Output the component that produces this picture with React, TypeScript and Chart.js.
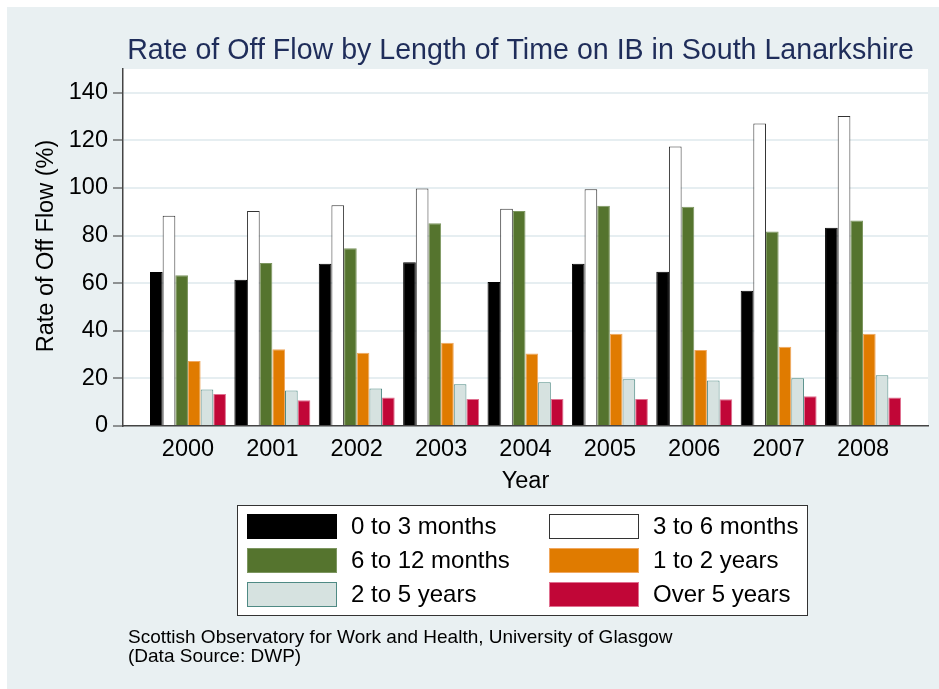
import React, { useEffect, useRef } from "react";
import { Chart, registerables } from "chart.js";

Chart.register(...registerables);

const YEARS = ["2000", "2001", "2002", "2003", "2004", "2005", "2006", "2007", "2008"];
const SERIES_LABELS = ["0 to 3 months", "3 to 6 months", "6 to 12 months", "1 to 2 years", "2 to 5 years", "Over 5 years"];
const M0_3 = [64.7, 61.5, 68.2, 68.8, 60.5, 68.2, 64.8, 56.8, 83.3];
const M3_6 = [88.3, 90.3, 92.8, 99.8, 91.3, 99.5, 117.4, 127.1, 130.2];
const M6_12 = [63.3, 68.5, 74.7, 85.2, 90.3, 92.5, 92.1, 81.7, 86.3];
const Y1_2 = [27.3, 32.3, 30.8, 35.0, 30.5, 38.8, 31.9, 33.3, 38.8];
const Y2_5 = [15.3, 14.9, 15.8, 17.5, 18.4, 19.6, 19.1, 20.1, 21.3];
const Y5_PLUS = [13.4, 10.8, 12.0, 11.3, 11.3, 11.3, 11.2, 12.5, 12.0];
const Y_TICKS = [0, 20, 40, 60, 80, 100, 120, 140];

const TITLE = "Rate of Off Flow by Length of Time on IB in South Lanarkshire";
const Y_TITLE = "Rate of Off Flow (%)";
const X_TITLE = "Year";
const CAPTION = ["Scottish Observatory for Work and Health, University of Glasgow", "(Data Source: DWP)"];

const FILLS = ["#000000", "#ffffff", "#55742e", "#e07b00", "#d6e2e0", "#c10637"];
const BORDERS = ["#000000", "#333333", "#7d9660", "#f0a860", "#4f8a84", "#e07090"];

const FONT = "'Liberation Sans', Arial, sans-serif";
const BG = "#e9f0f2";

const decorPlugin = {
  id: "decor",
  beforeDraw(chart: any) {
    const { ctx, chartArea, width, height } = chart;
    ctx.save();
    ctx.fillStyle = "#ffffff";
    ctx.fillRect(0, 0, width, height);
    ctx.fillStyle = BG;
    ctx.fillRect(7, 7, width - 7, height - 7);
    ctx.fillStyle = "#ffffff";
    ctx.fillRect(chartArea.left, chartArea.top, chartArea.right - chartArea.left, chartArea.bottom - chartArea.top);
    ctx.restore();
  },
  afterDraw(chart: any) {
    const { ctx, chartArea } = chart;
    ctx.save();
    // Title
    ctx.fillStyle = "#1f2d5a";
    ctx.font = `28.6px ${FONT}`;
    ctx.textAlign = "center";
    ctx.textBaseline = "alphabetic";
    ctx.fillText(TITLE, (chartArea.left + chartArea.right) / 2 - 5, 59);

    // Y title
    ctx.fillStyle = "#000000";
    ctx.font = `23.5px ${FONT}`;
    ctx.save();
    ctx.translate(47, 246);
    ctx.rotate(-Math.PI / 2);
    ctx.textAlign = "center";
    ctx.textBaseline = "middle";
    ctx.fillText(Y_TITLE, 0, 0);
    ctx.restore();

    // X title
    ctx.textAlign = "center";
    ctx.textBaseline = "alphabetic";
    ctx.fillText(X_TITLE, (chartArea.left + chartArea.right) / 2, 488);

    // Legend
    const lx = 237, ly = 505, lw = 571, lh = 111;
    ctx.fillStyle = "#ffffff";
    ctx.fillRect(lx, ly, lw, lh);
    ctx.strokeStyle = "#333333";
    ctx.lineWidth = 1;
    ctx.strokeRect(lx + 0.5, ly + 0.5, lw - 1, lh - 1);
    const colX = [247, 549];
    const rowY = [514, 548, 582];
    const datasets = chart.data.datasets;
    ctx.font = `24px ${FONT}`;
    ctx.textAlign = "left";
    ctx.textBaseline = "middle";
    datasets.forEach((ds: any, i: number) => {
      const cx = colX[i % 2];
      const cy = rowY[Math.floor(i / 2)];
      ctx.fillStyle = ds.backgroundColor;
      ctx.fillRect(cx, cy, 90, 25);
      ctx.strokeStyle = ds.borderColor;
      ctx.lineWidth = 1;
      ctx.strokeRect(cx + 0.5, cy + 0.5, 89, 24);
      ctx.fillStyle = "#000000";
      ctx.fillText(ds.label, cx + 104, cy + 13);
    });

    // Caption
    ctx.font = `19px ${FONT}`;
    ctx.textAlign = "left";
    ctx.textBaseline = "alphabetic";
    ctx.fillStyle = "#000000";
    CAPTION.forEach((line, i) => ctx.fillText(line, 128, 643 + i * 18.5));
    ctx.restore();
  },
};

export default function App() {
  const ref = useRef<HTMLCanvasElement>(null);
  useEffect(() => {
    if (!ref.current) return;
    const seriesValues = [M0_3, M3_6, M6_12, Y1_2, Y2_5, Y5_PLUS];
    const chart = new Chart(ref.current, {
      type: "bar",
      data: {
        datasets: seriesValues.map((vals, si) => ({
          label: SERIES_LABELS[si],
          data: vals.map((v, i) => ({ x: i, y: v })),
          backgroundColor: FILLS[si],
          borderColor: BORDERS[si],
          borderWidth: 1,
          categoryPercentage: 0.9,
          barPercentage: 1.0,
        })),
      },
      options: {
        responsive: false,
        animation: false,
        events: [],
        layout: { padding: { top: 69, right: 11, bottom: 0, left: 0 } },
        plugins: {
          legend: { display: false },
          title: { display: false },
          tooltip: { enabled: false },
        },
        scales: {
          x: {
            type: "linear",
            offset: false,
            min: -0.77,
            max: 8.77,
            afterBuildTicks: (scale: any) => {
              scale.ticks = YEARS.map((_, i) => ({ value: i }));
            },
            afterFit: (scale: any) => {
              scale.height = 263;
            },
            ticks: {
              callback: (v: any) => YEARS[v] ?? "",
              font: { family: FONT, size: 23.5 },
              color: "#000000",
              padding: 9,
              maxRotation: 0,
              autoSkip: false,
            },
            grid: { display: true, offset: false, drawOnChartArea: false, drawTicks: false },
            border: { display: true, color: "#444444", width: 1.5 },
          },
          y: {
            min: 0,
            max: 150,
            afterBuildTicks: (scale: any) => {
              scale.ticks = Y_TICKS.map((v) => ({ value: v }));
            },
            afterFit: (scale: any) => {
              scale.width = 123;
            },
            ticks: {
              font: { family: FONT, size: 23.5 },
              color: "#000000",
              padding: 5,
            },
            grid: {
              color: "#e6eef1",
              lineWidth: 2,
              tickColor: "#333333",
              tickLength: 10,
              tickWidth: 1,
            },
            border: { display: true, color: "#444444", width: 1.5 },
          },
        },
      },
      plugins: [decorPlugin],
    } as any);
    return () => chart.destroy();
  }, []);
  return (
    <div style={{ position: "absolute", left: 0, top: 0, width: 939, height: 689 }}>
      <canvas ref={ref} width={939} height={689} style={{ display: "block" }} />
    </div>
  );
}
